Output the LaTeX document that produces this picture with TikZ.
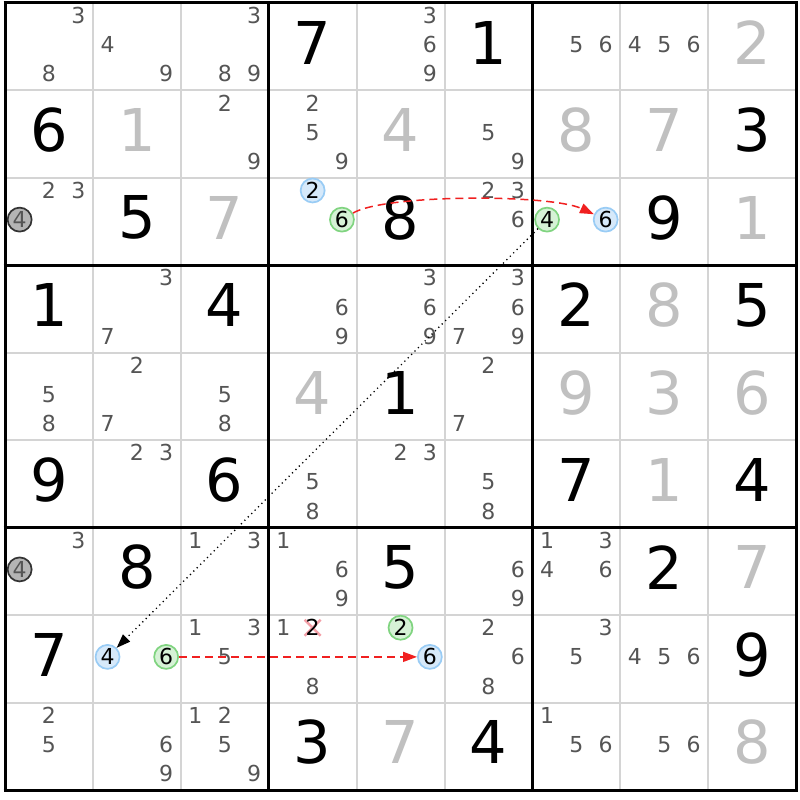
\documentclass[tikz,border=0pt]{standalone}
\usepackage{fontspec}
\setmainfont{DejaVu Sans}
\usetikzlibrary{arrows.meta}
\definecolor{thingray}{HTML}{D4D4D4}
\definecolor{solvedgray}{HTML}{C0C0C0}
\definecolor{candgray}{HTML}{555555}
\definecolor{bluefill}{HTML}{D6E9FA}
\definecolor{bluedraw}{HTML}{99CCF5}
\definecolor{greenfill}{HTML}{D6F2D6}
\definecolor{greendraw}{HTML}{80D480}
\definecolor{grayfill}{HTML}{B4B4B4}
\definecolor{linkred}{HTML}{F02020}
\definecolor{crosspink}{HTML}{F4A0A8}
\def\cw{87.9}
\def\ch{87.45}
\tikzset{
  givendigit/.style={inner sep=0pt, text=black, font=\fontsize{59}{62}\selectfont},
  solveddigit/.style={givendigit, text=solvedgray},
  canddigit/.style={inner sep=0pt, text=candgray, font=\fontsize{22}{23}\selectfont},
  bluec/.style={circle, draw=bluedraw, fill=bluefill, line width=1.7pt, inner sep=0pt,
    minimum size=24pt, text=black, font=\fontsize{22}{23}\selectfont},
  greenc/.style={bluec, draw=greendraw, fill=greenfill},
  grayc/.style={bluec, draw=black!80, fill=grayfill, text=candgray},
  thinline/.style={draw=thingray, line width=2pt},
  thickline/.style={draw=black, line width=3pt},
  redlink/.style={draw=linkred, line width=1.5pt, dash pattern=on 8pt off 5pt,
    -{Triangle[length=14pt,width=10pt]}},
  dotlink/.style={draw=black, line width=1.3pt, dash pattern=on 1.2pt off 3.6pt,
    -{Triangle[length=14pt,width=10pt]}},
  crossmark/.style={draw=crosspink, line width=2.5pt}
}
\newcommand\candxy[3]{%
  \pgfmathsetmacro\cx{5+(#2-1)*\cw+\cw*(mod(#3-1,3)+0.5)/3}%
  \pgfmathsetmacro\cy{3+(#1-1)*\ch+\ch*(floor((#3-1)/3)+0.5)/3-2}}
\newcommand\cands[3]{%
  \foreach \n in {#3} {\candxy{#1}{#2}{\n}\node[canddigit] (k#1#2\n) at (\cx,\cy) {\n};}}
\newcommand\givenat[3]{\node[givendigit] (g#1#2) at ({5+(#2-0.5)*\cw},{3+(#1-0.5)*\ch-4}) {#3};}
\newcommand\solvedat[3]{\node[solveddigit] (g#1#2) at ({5+(#2-0.5)*\cw},{3+(#1-0.5)*\ch-4}) {#3};}
\newcommand\circled[5]{\candxy{#2}{#3}{#4}\node[#1] (#5) at (\cx,\cy) {#4};}
\begin{document}
\begin{tikzpicture}[x=1pt,y=-1pt]
\useasboundingbox[fill=white] (0,0) rectangle (800,800);
% grid
\foreach \i in {1,2,4,5,7,8} {
  \draw[thinline] ({5+\i*\cw},3) -- ({5+\i*\cw},790);
  \draw[thinline] (5,{3+\i*\ch}) -- (796,{3+\i*\ch});
}
\foreach \i in {0,3,6,9} {
  \draw[thickline] ({5+\i*\cw},1.5) -- ({5+\i*\cw},791.5);
  \draw[thickline] (3.5,{3+\i*\ch}) -- (797.5,{3+\i*\ch});
}
% givens and solved
\givenat{1}{4}{7}\givenat{1}{6}{1}\solvedat{1}{9}{2}
\givenat{2}{1}{6}\solvedat{2}{2}{1}\solvedat{2}{5}{4}\solvedat{2}{7}{8}\solvedat{2}{8}{7}\givenat{2}{9}{3}
\givenat{3}{2}{5}\solvedat{3}{3}{7}\givenat{3}{5}{8}\givenat{3}{8}{9}\solvedat{3}{9}{1}
\givenat{4}{1}{1}\givenat{4}{3}{4}\givenat{4}{7}{2}\solvedat{4}{8}{8}\givenat{4}{9}{5}
\solvedat{5}{4}{4}\givenat{5}{5}{1}\solvedat{5}{7}{9}\solvedat{5}{8}{3}\solvedat{5}{9}{6}
\givenat{6}{1}{9}\givenat{6}{3}{6}\givenat{6}{7}{7}\solvedat{6}{8}{1}\givenat{6}{9}{4}
\givenat{7}{2}{8}\givenat{7}{5}{5}\givenat{7}{8}{2}\solvedat{7}{9}{7}
\givenat{8}{1}{7}\givenat{8}{9}{9}
\givenat{9}{4}{3}\solvedat{9}{5}{7}\givenat{9}{6}{4}\solvedat{9}{9}{8}
% candidates
\cands{1}{1}{3,8}\cands{1}{2}{4,9}\cands{1}{3}{3,8,9}\cands{1}{5}{3,6,9}\cands{1}{7}{5,6}\cands{1}{8}{4,5,6}
\cands{2}{3}{2,9}\cands{2}{4}{2,5,9}\cands{2}{6}{5,9}
\cands{3}{1}{2,3}\cands{3}{6}{2,3,6}
\cands{4}{2}{3,7}\cands{4}{4}{6,9}\cands{4}{5}{3,6,9}\cands{4}{6}{3,6,7,9}
\cands{5}{1}{5,8}\cands{5}{2}{2,7}\cands{5}{3}{5,8}\cands{5}{6}{2,7}
\cands{6}{2}{2,3}\cands{6}{4}{5,8}\cands{6}{5}{2,3}\cands{6}{6}{5,8}
\cands{7}{1}{3}\cands{7}{3}{1,3}\cands{7}{4}{1,6,9}\cands{7}{6}{6,9}\cands{7}{7}{1,3,4,6}
\cands{8}{3}{1,3,5}\cands{8}{4}{1,8}\cands{8}{6}{2,6,8}\cands{8}{7}{3,5}\cands{8}{8}{4,5,6}
\cands{9}{1}{2,5}\cands{9}{2}{6,9}\cands{9}{3}{1,2,5,9}\cands{9}{7}{1,5,6}\cands{9}{8}{5,6}
% eliminated candidate
\candxy{8}{4}{2}
\draw[crossmark] (\cx-8,\cy-8) -- (\cx+8,\cy+8);
\draw[crossmark] (\cx+8,\cy-8) -- (\cx-8,\cy+8);
\node[canddigit, text=black] (k842) at (\cx,\cy) {2};
% highlighted candidates
\circled{grayc}{3}{1}{4}{grayA}
\circled{grayc}{7}{1}{4}{grayB}
\circled{bluec}{3}{4}{2}{blueA}
\circled{greenc}{3}{4}{6}{greenA}
\circled{greenc}{3}{7}{4}{greenB}
\circled{bluec}{3}{7}{6}{blueB}
\circled{bluec}{8}{2}{4}{blueC}
\circled{greenc}{8}{2}{6}{greenC}
\circled{greenc}{8}{5}{2}{greenD}
\circled{bluec}{8}{5}{6}{blueD}
% links
\draw[redlink] (greenA) .. controls (385,194) and (550,194) .. (blueB);
\draw[dotlink] (greenB) -- (blueC);
\draw[redlink] (greenC) -- (blueD);
\end{tikzpicture}
\end{document}
